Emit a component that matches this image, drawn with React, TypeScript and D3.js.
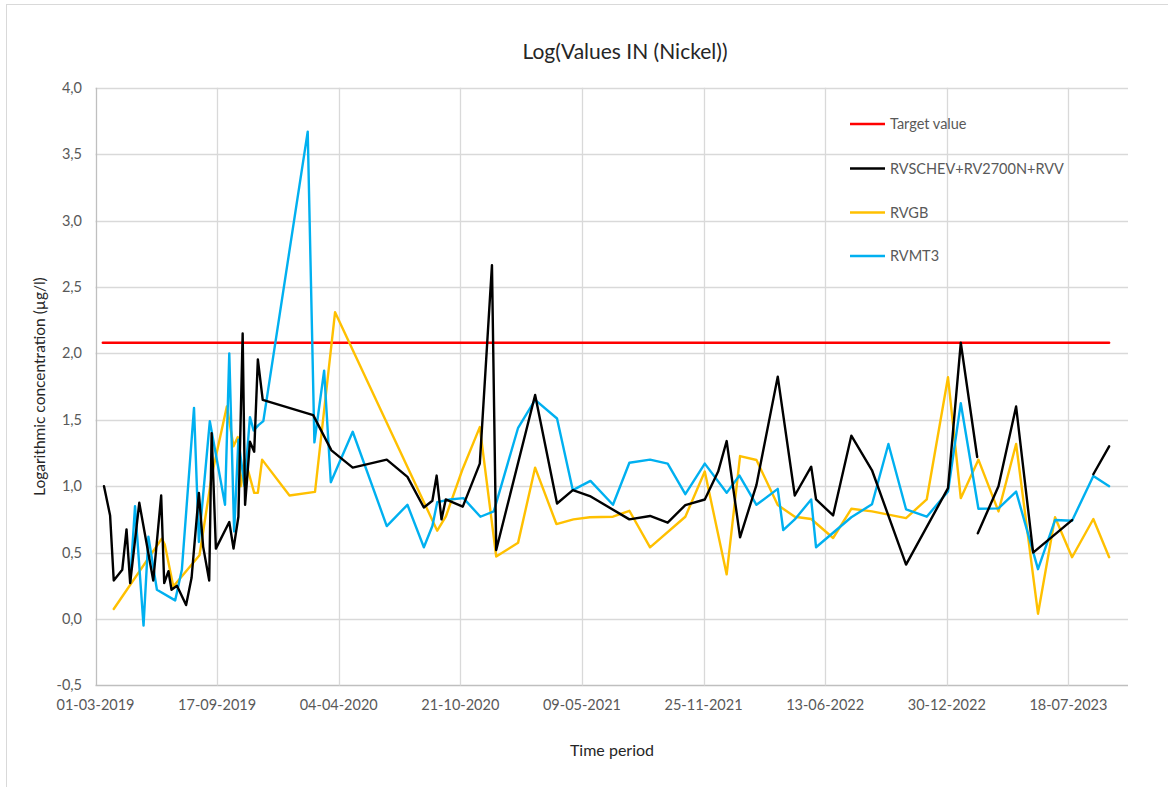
import React, { useEffect } from "react";
import * as d3 from "d3";

const chartTitle = "Log(Values IN (Nickel))";
const yAxisTitle = "Logarithmic concentration (µg/l)";
const xAxisTitle = "Time period";

const yTicks = [-0.5, 0, 0.5, 1.0, 1.5, 2.0, 2.5, 3.0, 3.5, 4.0];
const xTickLabels = [
  "01-03-2019", "17-09-2019", "04-04-2020", "21-10-2020", "09-05-2021",
  "25-11-2021", "13-06-2022", "30-12-2022", "18-07-2023",
];
const axisStart = "2019-03-01";
const axisSpanDays = 1698;

const targetValue = 2.08;
const targetDates = ["2019-03-13", "2023-09-23"];

type Pt = [string, number | null];

const rvschev: Pt[] = [
  ["2019-03-15", 1.0], ["2019-03-25", 0.78], ["2019-03-31", 0.29], ["2019-04-14", 0.37],
  ["2019-04-21", 0.675], ["2019-04-27", 0.27], ["2019-05-12", 0.875], ["2019-06-04", 0.29],
  ["2019-06-17", 0.93], ["2019-06-22", 0.27], ["2019-06-29", 0.36], ["2019-07-04", 0.22],
  ["2019-07-13", 0.25], ["2019-07-28", 0.105], ["2019-08-06", 0.31], ["2019-08-18", 0.95],
  ["2019-08-25", 0.545], ["2019-09-04", 0.29], ["2019-09-08", 1.4], ["2019-09-15", 0.53],
  ["2019-10-07", 0.73], ["2019-10-14", 0.53], ["2019-10-22", 0.77], ["2019-10-29", 2.15],
  ["2019-11-02", 0.86], ["2019-11-10", 1.335], ["2019-11-17", 1.26], ["2019-11-23", 1.955],
  ["2019-12-01", 1.65], ["2020-02-22", 1.535], ["2020-03-23", 1.27], ["2020-04-27", 1.14],
  ["2020-06-22", 1.2], ["2020-07-26", 1.07], ["2020-08-22", 0.84], ["2020-09-05", 0.89],
  ["2020-09-12", 1.08], ["2020-09-20", 0.75], ["2020-09-27", 0.9], ["2020-10-25", 0.846],
  ["2020-11-22", 1.17], ["2020-12-12", 2.665], ["2020-12-19", 0.52], ["2021-02-21", 1.687],
  ["2021-03-29", 0.87], ["2021-04-24", 0.97], ["2021-05-22", 0.926], ["2021-07-26", 0.75],
  ["2021-08-29", 0.776], ["2021-09-27", 0.725], ["2021-10-26", 0.858], ["2021-11-27", 0.9],
  ["2021-12-19", 1.11], ["2022-01-02", 1.34], ["2022-01-24", 0.615], ["2022-02-20", 1.01],
  ["2022-03-27", 1.825], ["2022-04-24", 0.93], ["2022-05-21", 1.147], ["2022-05-29", 0.9],
  ["2022-06-26", 0.78], ["2022-07-26", 1.38], ["2022-08-29", 1.12], ["2022-10-24", 0.41],
  ["2023-01-01", 0.985], ["2023-01-22", 2.08], ["2023-02-18", 1.22], ["2023-02-18", null],
  ["2023-02-19", 0.645], ["2023-03-25", 1.0], ["2023-04-23", 1.6], ["2023-05-21", 0.5],
  ["2023-07-24", 0.745], ["2023-07-24", null], ["2023-08-28", 1.09], ["2023-09-23", 1.3],
];

const rvgb: Pt[] = [
  ["2019-03-31", 0.075], ["2019-06-18", 0.605], ["2019-06-23", 0.56], ["2019-07-07", 0.245],
  ["2019-08-19", 0.48], ["2019-09-09", 1.1], ["2019-10-03", 1.6], ["2019-10-14", 1.3],
  ["2019-10-21", 1.37], ["2019-10-26", 1.0], ["2019-11-02", 1.2], ["2019-11-17", 0.95],
  ["2019-11-23", 0.95], ["2019-11-30", 1.2], ["2020-01-14", 0.93], ["2020-02-25", 0.957],
  ["2020-03-29", 2.31], ["2020-09-13", 0.665], ["2020-09-27", 0.77], ["2020-10-24", 1.12],
  ["2020-11-22", 1.445], ["2020-12-19", 0.47], ["2021-01-24", 0.575], ["2021-02-21", 1.14],
  ["2021-03-28", 0.715], ["2021-04-25", 0.75], ["2021-05-22", 0.766], ["2021-06-29", 0.77],
  ["2021-07-26", 0.815], ["2021-08-29", 0.54], ["2021-10-26", 0.77], ["2021-11-27", 1.11],
  ["2022-01-02", 0.336], ["2022-01-24", 1.227], ["2022-02-20", 1.197], ["2022-03-27", 0.858],
  ["2022-04-24", 0.77], ["2022-05-21", 0.753], ["2022-06-26", 0.61], ["2022-07-26", 0.83],
  ["2022-08-29", 0.81], ["2022-10-24", 0.76], ["2022-11-27", 0.9], ["2023-01-01", 1.82],
  ["2023-01-22", 0.91], ["2023-02-20", 1.2], ["2023-03-25", 0.81], ["2023-04-23", 1.318],
  ["2023-05-29", 0.04], ["2023-06-26", 0.766], ["2023-07-24", 0.465], ["2023-08-28", 0.753],
  ["2023-09-23", 0.465],
];

const rvmt3: Pt[] = [
  ["2019-04-27", 0.28], ["2019-05-05", 0.85], ["2019-05-19", -0.05], ["2019-05-27", 0.62],
  ["2019-06-10", 0.22], ["2019-07-10", 0.14], ["2019-07-21", 0.37], ["2019-08-10", 1.59],
  ["2019-08-18", 0.58], ["2019-09-05", 1.49], ["2019-09-30", 0.86], ["2019-10-07", 2.0],
  ["2019-10-15", 0.66], ["2019-10-22", 1.35], ["2019-11-01", 1.0], ["2019-11-10", 1.52],
  ["2019-11-16", 1.42], ["2019-11-24", 1.46], ["2019-12-02", 1.49], ["2020-02-13", 3.67],
  ["2020-02-24", 1.33], ["2020-03-11", 1.87], ["2020-03-22", 1.03], ["2020-04-27", 1.41],
  ["2020-06-22", 0.7], ["2020-07-26", 0.86], ["2020-08-22", 0.54], ["2020-09-05", 0.7],
  ["2020-09-13", 0.88], ["2020-10-04", 0.9], ["2020-10-26", 0.91], ["2020-11-23", 0.77],
  ["2020-12-15", 0.81], ["2021-01-24", 1.44], ["2021-02-21", 1.65], ["2021-03-29", 1.51],
  ["2021-04-24", 0.97], ["2021-05-23", 1.04], ["2021-06-29", 0.86], ["2021-07-26", 1.177],
  ["2021-08-29", 1.2], ["2021-09-27", 1.17], ["2021-10-26", 0.94], ["2021-11-27", 1.17],
  ["2022-01-02", 0.95], ["2022-01-23", 1.08], ["2022-02-20", 0.86], ["2022-03-27", 0.98],
  ["2022-04-05", 0.67], ["2022-04-24", 0.75], ["2022-05-21", 0.9], ["2022-05-29", 0.54],
  ["2022-07-26", 0.766], ["2022-08-29", 0.864], ["2022-09-25", 1.318], ["2022-10-24", 0.826],
  ["2022-11-27", 0.77], ["2023-01-01", 0.96], ["2023-01-22", 1.625], ["2023-02-20", 0.83],
  ["2023-03-25", 0.833], ["2023-04-23", 0.96], ["2023-05-29", 0.375], ["2023-06-26", 0.745],
  ["2023-07-24", 0.74], ["2023-08-28", 1.077], ["2023-09-23", 1.0],
];

const legendNames = ["Target value", "RVSCHEV+RV2700N+RVV", "RVGB", "RVMT3"];
const legendColors = ["#FF0000", "#000000", "#FFC000", "#00B0F0"];

const W = 1168;
const H = 787;
const FONT = "Lato, 'Open Sans', sans-serif";

const parseISO = d3.utcParse("%Y-%m-%d");
const parseDMY = d3.utcParse("%d-%m-%Y");

export default function App() {
  useEffect(() => {
    document.body.style.margin = "0";
  }, []);

  const plotLeft = 95.5;
  const plotRight = 1128;
  const plotTop = 87.8;
  const plotBottom = 685.4;

  const start = parseISO(axisStart)!;
  const x = d3
    .scaleUtc()
    .domain([start, d3.utcDay.offset(start, axisSpanDays)])
    .range([plotLeft, plotRight]);
  const y = d3.scaleLinear().domain([-0.5, 4.0]).range([plotBottom, plotTop]);

  const line = d3
    .line<Pt>()
    .defined((d) => d[1] !== null)
    .x((d) => x(parseISO(d[0])!))
    .y((d) => y(d[1] as number));

  const fmt = (v: number) => d3.format(".1f")(v).replace(".", ",").replace("−", "-");

  const targetPts: Pt[] = targetDates.map((d) => [d, targetValue]);
  const drawOrder: { data: Pt[]; color: string }[] = [
    { data: targetPts, color: legendColors[0] },
    { data: rvgb, color: legendColors[2] },
    { data: rvmt3, color: legendColors[3] },
    { data: rvschev, color: legendColors[1] },
  ];

  const legendY = [124, 168.5, 212.5, 256];

  return (
    <svg width={W} height={H} style={{ display: "block", background: "#fff" }} fontFamily={FONT}>
      <rect x={0} y={0} width={W} height={H} fill="#fff" />
      <line x1={6.5} y1={4} x2={6.5} y2={H} stroke="#d9d9d9" />
      <line x1={6} y1={4.5} x2={W} y2={4.5} stroke="#d9d9d9" />

      <text x={625} y={59} textAnchor="middle" fontSize={21} fill="#262626">
        {chartTitle}
      </text>

      {/* horizontal gridlines */}
      {yTicks.map((t) => (
        <line
          key={"h" + t}
          x1={plotLeft}
          x2={plotRight}
          y1={Math.round(y(t)) + 0.5}
          y2={Math.round(y(t)) + 0.5}
          stroke={t === -0.5 ? "#bfbfbf" : "#d9d9d9"}
          strokeWidth={1.3}
        />
      ))}
      {/* vertical gridlines */}
      {xTickLabels.map((l) => {
        const xv = Math.round(x(parseDMY(l)!)) + 0.5;
        return (
          <line key={"v" + l} x1={xv} x2={xv} y1={plotTop} y2={plotBottom} stroke={l === xTickLabels[0] ? "#bfbfbf" : "#d9d9d9"} strokeWidth={1.3} />
        );
      })}

      {/* y tick labels */}
      {yTicks.map((t) => (
        <text key={"yl" + t} x={82} y={y(t)} dy="0.35em" textAnchor="end" fontSize={14.5} fill="#595959">
          {fmt(t)}
        </text>
      ))}
      {/* x tick labels */}
      {xTickLabels.map((l) => (
        <text key={"xl" + l} x={x(parseDMY(l)!)} y={710} textAnchor="middle" fontSize={14.5} fill="#595959">
          {l}
        </text>
      ))}

      <text
        transform={`translate(45,${(plotTop + plotBottom) / 2}) rotate(-90)`}
        textAnchor="middle"
        fontSize={15.5}
        fill="#262626"
      >
        {yAxisTitle}
      </text>
      <text x={612} y={756} textAnchor="middle" fontSize={16} fill="#262626">
        {xAxisTitle}
      </text>

      {/* series */}
      {drawOrder.map((s, i) => (
        <path
          key={"s" + i}
          d={line(s.data) || ""}
          fill="none"
          stroke={s.color}
          strokeWidth={2.4}
          strokeLinejoin="round"
          strokeLinecap="round"
        />
      ))}

      {/* legend */}
      {legendNames.map((n, i) => (
        <g key={"lg" + n}>
          <line x1={850} x2={885} y1={legendY[i]} y2={legendY[i]} stroke={legendColors[i]} strokeWidth={2.4} />
          <text x={890} y={legendY[i]} dy="0.35em" fontSize={14.5} fill="#595959">
            {n}
          </text>
        </g>
      ))}
    </svg>
  );
}
